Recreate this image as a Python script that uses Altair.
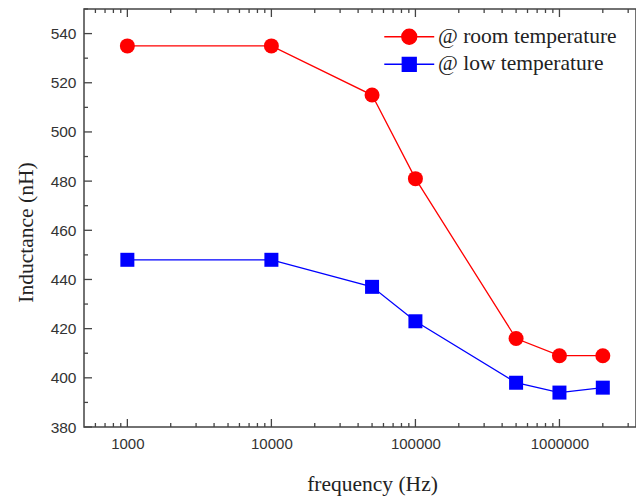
import altair as alt
import pandas as pd

# ---- data ----
freq = [1000, 10000, 50000, 100000, 500000, 1000000, 2000000]
room = [535, 535, 515, 481, 416, 409, 409]
low = [448, 448, 437, 423, 398, 394, 396]
series_names = ["@ room temperature", "@ low temperature"]

x_major = [1000, 10000, 100000, 1000000]
x_minor = [600, 700, 800, 900,
           2000, 3000, 4000, 5000, 6000, 7000, 8000, 9000,
           20000, 30000, 40000, 50000, 60000, 70000, 80000, 90000,
           200000, 300000, 400000, 500000, 600000, 700000, 800000, 900000,
           2000000, 3000000]
y_major = [380, 400, 420, 440, 460, 480, 500, 520, 540]
y_minor = [390, 410, 430, 450, 470, 490, 510, 530, 550]

W, H = 552, 418
AX = "#444444"
RED, BLUE = "#ff0000", "#0000ff"

df = pd.DataFrame({
    "freq": freq + freq,
    "L": room + low,
    "series": [series_names[0]] * len(freq) + [series_names[1]] * len(freq),
})

xscale = alt.Scale(type="log", domain=[500, 3400000], nice=False)
yscale = alt.Scale(domain=[380, 550], nice=False, zero=False)

xaxis = alt.Axis(values=x_major, ticks=False, domain=False, grid=False,
                 labelExpr="format(datum.value, 'd')", labelFlush=False, labelOverlap=False,
                 labelFont="Liberation Sans", labelFontSize=15, labelColor="#333333",
                 labelPadding=9, title="frequency (Hz)", titleFont="Liberation Serif",
                 titleFontSize=21.5, titleFontWeight="normal", titleColor="#222222",
                 titleX=288, titleY=57, titleBaseline="middle", titleAlign="center")
yaxis = alt.Axis(values=y_major, ticks=False, domain=False, grid=False,
                 labelFont="Liberation Sans", labelFontSize=15.5, labelColor="#333333",
                 labelPadding=8, labelOverlap=False, labelFlush=False,
                 title="Inductance (nH)", titleFont="Liberation Serif",
                 titleFontSize=21.5, titleFontWeight="normal", titleColor="#222222",
                 titleAngle=270, titleX=-58, titleY=223, titleBaseline="middle",
                 titleAlign="center")

base = alt.Chart(df)
enc = dict(x=alt.X("freq:Q", scale=xscale, axis=xaxis),
           y=alt.Y("L:Q", scale=yscale, axis=yaxis))

layers = []
for name, col, shp, sz in [(series_names[0], RED, "circle", 225),
                           (series_names[1], BLUE, "square", 196)]:
    sub = base.transform_filter(alt.datum.series == name)
    layers.append(sub.mark_line(color=col, strokeWidth=1.3).encode(**enc))
    layers.append(sub.mark_point(shape=shp, filled=True, size=sz, color=col,
                                 opacity=1).encode(**enc))

# inward ticks
def yticks(vals, length):
    return alt.Chart(pd.DataFrame({"v": vals})).mark_rule(color=AX, strokeWidth=1.3).encode(
        y=alt.Y("v:Q", scale=yscale, axis=yaxis), x=alt.value(0), x2=alt.value(length))

def xticks(vals, length, top):
    y0 = 0 if top else H
    y1 = length if top else H - length
    return alt.Chart(pd.DataFrame({"v": vals})).mark_rule(color=AX, strokeWidth=1.3).encode(
        x=alt.X("v:Q", scale=xscale, axis=xaxis), y=alt.value(y0), y2=alt.value(y1))

layers += [yticks(y_major, 8), yticks(y_minor, 4),
           xticks(x_major, 8, False), xticks(x_minor, 4, False),
           xticks(x_major, 8, True), xticks(x_minor, 4, True)]

# legend (line + marker symbols)
circle_path = "M-3.33,0H3.33M-1,0A1,1,0,1,1,1,0A1,1,0,1,1,-1,0Z"
square_path = "M-3.33,0H3.33M-0.93,-0.93H0.93V0.93H-0.93Z"
leg = alt.Legend(title=None, orient="none", legendX=314.5, legendY=17,
                 symbolSize=225, symbolStrokeWidth=1.3, symbolOpacity=1,
                 labelFont="Liberation Serif", labelFontSize=21.5, labelColor="#222222",
                 labelOffset=18, rowPadding=4.5, padding=0, labelLimit=400)
legend_layer = alt.Chart(pd.DataFrame({"series": series_names})).mark_point(
    filled=True, opacity=0).encode(
    fill=alt.Fill("series:N", scale=alt.Scale(domain=series_names, range=[RED, BLUE]), legend=leg),
    stroke=alt.Stroke("series:N", scale=alt.Scale(domain=series_names, range=[RED, BLUE]), legend=leg),
    shape=alt.Shape("series:N", scale=alt.Scale(domain=series_names, range=[circle_path, square_path]), legend=leg),
)
layers.append(legend_layer)

chart = alt.layer(*layers).properties(
    width=W, height=H,
    autosize=alt.AutoSizeParams(type="none"),
    padding={"left": 84, "top": 9, "right": 0, "bottom": 71},
    background="white",
).configure_view(stroke=AX, strokeWidth=1.5)

chart.save("out.html", embed_options={"renderer": "svg", "actions": False})
